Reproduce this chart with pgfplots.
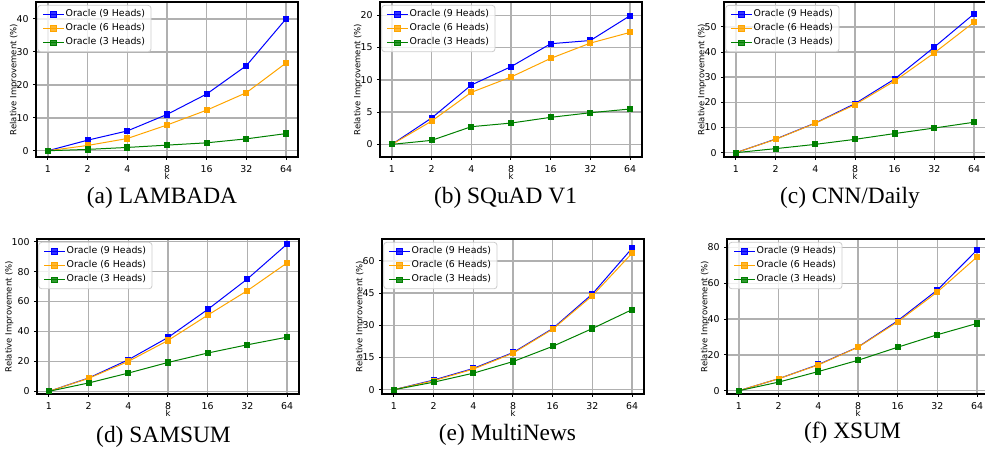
\documentclass[border=0pt]{standalone}
\usepackage{fontspec}
\setmainfont{Liberation Serif}
\newfontfamily\djv{DejaVu Sans}
\usepackage{pgfplots}
\pgfplotsset{compat=1.18}
\definecolor{mplblue}{HTML}{0000FF}
\definecolor{mplorange}{HTML}{FFA500}
\definecolor{mplgreen}{HTML}{008000}
\definecolor{gridgray}{HTML}{B0B0B0}
\definecolor{legframe}{HTML}{CCCCCC}

\pgfplotsset{
  panel/.style={
    scale only axis, width=131pt, height=77.5pt, anchor=south west,
    xmin=-0.3, xmax=6.3, xtick={0,...,6}, xticklabels={1,2,4,8,16,32,64},
    grid=major, grid style={draw=gridgray, line width=0.75pt},
    axis line style={line width=0.6pt},
    tick align=outside, major tick length=1.3pt, tick style={line width=0.5pt, black},
    xtick pos=left, ytick pos=left,
    tick label style={font=\djv\fontsize{4.7}{5.5}\selectfont},
    xticklabel style={yshift=0.6pt},
    yticklabel style={xshift=1.1pt},
    /pgf/number format/assume math mode=true,
    label style={font=\djv\fontsize{4.25}{5}\selectfont},
    xlabel={k}, ylabel={Relative Improvement (\%)},
    xlabel style={at={(axis description cs:0.5,0)}, anchor=base, yshift=-11.3pt},
    ylabel style={at={(axis description cs:-0.084,0.5)}, anchor=center},
    legend style={at={(0.005,0.981)}, anchor=north west, draw=legframe,
      rounded corners=1.5pt, fill=white, fill opacity=0.8, text opacity=1,
      font=\djv\fontsize{4.7}{5.5}\selectfont, cells={anchor=west},
      nodes={inner sep=0.6pt}, inner xsep=2.4pt, inner ysep=1.4pt, row sep=0.8pt},
    legend image code/.code={\draw[mark repeat=2,mark phase=2] plot coordinates {(0pt,0pt)(5.25pt,0pt)(10.5pt,0pt)};},
    every axis plot/.append style={line width=0.5pt, mark=square*, mark size=1.3pt},
  },
  s9/.style={color=mplblue, mark options={fill=mplblue}},
  s6/.style={color=mplorange, mark options={fill=mplorange}},
  s3/.style={color=mplgreen, mark options={fill=mplgreen}},
}
\tikzset{capnode/.style={anchor=base, font=\fontsize{11.7}{14}\selectfont}}
\newcommand{\heads}{\legend{Oracle (9 Heads)\hspace{3.5pt},Oracle (6 Heads)\hspace{3.5pt},Oracle (3 Heads)\hspace{3.5pt}}}

\begin{document}
\begin{tikzpicture}
\useasboundingbox (0,0) rectangle (492.5pt,225pt);
\clip (0,0) rectangle (492.5pt,225pt);

% (a) LAMBADA
\begin{axis}[panel, at={(18pt,146.5pt)}, ymin=-1.9, ymax=45.1, ytick={0,10,...,40}]
\addplot[s9] coordinates {(0,0) (1,3.2) (2,6.0) (3,11.0) (4,17.2) (5,25.8) (6,40.0)};
\addplot[s6] coordinates {(0,0) (1,1.6) (2,3.7) (3,7.8) (4,12.3) (5,17.6) (6,26.6)};
\addplot[s3] coordinates {(0,0) (1,0.4) (2,1.0) (3,1.7) (4,2.4) (5,3.6) (6,5.2)};
\heads
\end{axis}

% (b) SQuAD V1
\begin{axis}[panel, at={(190pt,146.5pt)}, ymin=-1.96, ymax=22.07, ytick={0,5,...,20}]
\addplot[s9] coordinates {(0,0) (1,4.08) (2,9.2) (3,12.04) (4,15.6) (5,16.1) (6,19.95)};
\addplot[s6] coordinates {(0,0) (1,3.6) (2,8.06) (3,10.44) (4,13.33) (5,15.7) (6,17.36)};
\addplot[s3] coordinates {(0,0) (1,0.62) (2,2.74) (3,3.3) (4,4.19) (5,4.9) (6,5.48)};
\heads
\end{axis}

% (c) CNN/Daily
\begin{axis}[panel, at={(362pt,146.5pt)}, ymin=-1.72, ymax=59.9, ytick={0,10,...,50}]
\addplot[s9] coordinates {(0,0) (1,5.4) (2,11.8) (3,19.5) (4,29.3) (5,42.0) (6,55.2)};
\addplot[s6] coordinates {(0,0) (1,5.3) (2,11.7) (3,19.1) (4,28.5) (5,39.7) (6,51.9)};
\addplot[s3] coordinates {(0,0) (1,1.6) (2,3.3) (3,5.3) (4,7.6) (5,9.8) (6,12.1)};
\heads
\end{axis}

% (d) SAMSUM
\begin{axis}[panel, at={(18.5pt,28pt)}, ymin=-1.78, ymax=101.8, ytick={0,20,...,100},
  ylabel style={at={(axis description cs:-0.106,0.5)}}]
\addplot[s9] coordinates {(0,0) (1,8.9) (2,21.1) (3,36.0) (4,54.7) (5,75.1) (6,98.4)};
\addplot[s6] coordinates {(0,0) (1,8.7) (2,20.0) (3,34.0) (4,50.9) (5,67.3) (6,85.8)};
\addplot[s3] coordinates {(0,0) (1,5.6) (2,12.2) (3,19.3) (4,25.6) (5,31.1) (6,36.2)};
\heads
\end{axis}

% (e) MultiNews
\begin{axis}[panel, at={(191pt,28pt)}, ymin=-2.0, ymax=70.2, ytick={0,15,...,60}]
\addplot[s9] coordinates {(0,0) (1,4.5) (2,9.9) (3,17.3) (4,28.5) (5,44.6) (6,65.9)};
\addplot[s6] coordinates {(0,0) (1,4.2) (2,9.6) (3,17.0) (4,28.2) (5,43.8) (6,63.6)};
\addplot[s3] coordinates {(0,0) (1,3.5) (2,7.7) (3,13.1) (4,20.2) (5,28.5) (6,37.3)};
\heads
\end{axis}

% (f) XSUM
\begin{axis}[panel, at={(363.5pt,28pt)}, ymin=-1.85, ymax=84.8, ytick={0,20,...,80}]
\addplot[s9] coordinates {(0,0) (1,6.7) (2,14.6) (3,24.4) (4,39.1) (5,56.3) (6,78.7)};
\addplot[s6] coordinates {(0,0) (1,6.7) (2,14.4) (3,24.3) (4,38.5) (5,55.2) (6,74.8)};
\addplot[s3] coordinates {(0,0) (1,4.8) (2,10.7) (3,17.0) (4,24.3) (5,31.3) (6,37.6)};
\heads
\end{axis}

\node[capnode] at (81pt,123pt) {(a) LAMBADA};
\node[capnode] at (252.75pt,123pt) {(b) SQuAD V1};
\node[capnode] at (425pt,123pt) {(c) CNN/Daily};
\node[capnode] at (81.75pt,4pt) {(d) SAMSUM};
\node[capnode] at (253.75pt,5pt) {(e) MultiNews};
\node[capnode] at (426.25pt,6pt) {(f) XSUM};
\end{tikzpicture}
\end{document}
